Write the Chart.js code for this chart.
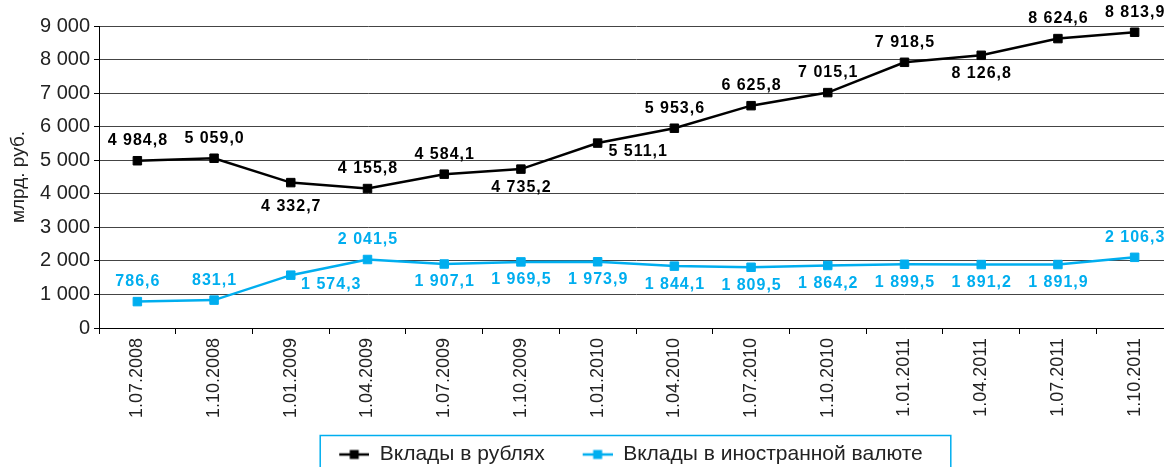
<!DOCTYPE html>
<html>
<head>
<meta charset="utf-8">
<script src="https://cdn.jsdelivr.net/npm/chart.js@4.4.1/dist/chart.umd.min.js"></script>
<style>
html,body{margin:0;padding:0;background:#fff;overflow:hidden;}
#wrap{width:1164px;height:467px;position:relative;overflow:hidden;}
canvas{display:block;}
</style>
</head>
<body>
<div id="wrap"><canvas id="c" width="1180" height="467"></canvas></div>
<script>
const categories = ['1.07.2008','1.10.2008','1.01.2009','1.04.2009','1.07.2009','1.10.2009','1.01.2010','1.04.2010','1.07.2010','1.10.2010','1.01.2011','1.04.2011','1.07.2011','1.10.2011'];
const rubDeposits = [4984.8, 5059.0, 4332.7, 4155.8, 4584.1, 4735.2, 5511.1, 5953.6, 6625.8, 7015.1, 7918.5, 8126.8, 8624.6, 8813.9];
const fxDeposits = [786.6, 831.1, 1574.3, 2041.5, 1907.1, 1969.5, 1973.9, 1844.1, 1809.5, 1864.2, 1899.5, 1891.2, 1891.9, 2106.3];
const seriesNames = ['Вклады в рублях', 'Вклады в иностранной валюте'];
const yAxisTitle = 'млрд. руб.';
const yMin = 0, yMax = 9000, yStep = 1000;
// label placement relative to marker
const rubLabelPlace = ['above','above','belowFar','above','above','below','right','above','above','above','above','below','above','above'];
const fxLabelPlace  = ['above','above','right','above','below','below','below','below','below','below','below','below','below','above'];

const BLACK = '#000000';
const BLUE = '#00aeef';
Chart.defaults.font.family = "'Liberation Sans', Arial, Helvetica, sans-serif";

function fmtNum(v, dec) {
  const s = v.toFixed(dec);
  const parts = s.split('.');
  const intPart = parts[0].replace(/\B(?=(\d{3})+(?!\d))/g, ' ');
  return parts.length > 1 ? intPart + ',' + parts[1] : intPart;
}

// legend marker: line with square, left part transparent (spacing)
function makeMarker(color) {
  const c = document.createElement('canvas');
  c.width = 48; c.height = 12;
  const g = c.getContext('2d');
  g.strokeStyle = color; g.lineWidth = 2.5;
  g.beginPath(); g.moveTo(18, 6); g.lineTo(48, 6); g.stroke();
  g.fillStyle = color; g.fillRect(28.5, 1.5, 9, 9);
  return c;
}
const markers = [makeMarker(BLACK), makeMarker(BLUE)];

const placeOffsets = {
  above: {dx: 0, dy: -20},
  below: {dx: 0, dy: 18},
  belowFar: {dx: 0, dy: 24},
  right: {dx: 40, dy: 9}
};
const labelPlaces = [rubLabelPlace, fxLabelPlace];

const dataLabelPlugin = {
  id: 'dataLabels',
  afterDatasetsDraw(chart) {
    const ctx = chart.ctx;
    ctx.save();
    ctx.font = "bold 16px 'Liberation Sans', Arial, sans-serif";
    if ('letterSpacing' in ctx) ctx.letterSpacing = '1px';
    ctx.textAlign = 'center';
    ctx.textBaseline = 'middle';
    chart.data.datasets.forEach((ds, di) => {
      const meta = chart.getDatasetMeta(di);
      ctx.fillStyle = ds.borderColor;
      meta.data.forEach((pt, i) => {
        const off = placeOffsets[labelPlaces[di][i]];
        ctx.fillText(fmtNum(ds.data[i], 1), pt.x + off.dx + 0.5, pt.y + off.dy);
      });
    });
    ctx.restore();
  }
};

const legendShiftPlugin = {
  id: 'legendShift',
  afterLayout(chart) {
    const lg = chart.legend;
    if (!lg) return;
    lg.left -= 14;
    lg.right -= 14;
  }
};

const legendBoxPlugin = {
  id: 'legendBox',
  afterDraw(chart) {
    const lg = chart.legend;
    if (!lg || !lg.legendHitBoxes || !lg.legendHitBoxes.length) return;
    const hb = lg.legendHitBoxes;
    const first = hb[0], last = hb[hb.length - 1];
    const left = first.left - 1;
    const right = last.left + last.width + 28;
    const top = first.top + first.height / 2 - 19;
    const ctx = chart.ctx;
    ctx.save();
    ctx.strokeStyle = BLUE;
    ctx.lineWidth = 1.5;
    ctx.strokeRect(left, top, right - left, 60);
    ctx.restore();
  }
};

new Chart(document.getElementById('c'), {
  type: 'line',
  data: {
    labels: categories,
    datasets: [
      {
        label: seriesNames[0], data: rubDeposits,
        borderColor: BLACK, backgroundColor: BLACK,
        borderWidth: 2.5, pointStyle: 'rect', pointRadius: 6, pointBorderWidth: 1,
        pointBackgroundColor: BLACK, pointBorderColor: BLACK, tension: 0, fill: false
      },
      {
        label: seriesNames[1], data: fxDeposits,
        borderColor: BLUE, backgroundColor: BLUE,
        borderWidth: 2.5, pointStyle: 'rect', pointRadius: 6, pointBorderWidth: 1,
        pointBackgroundColor: BLUE, pointBorderColor: BLUE, tension: 0, fill: false
      }
    ]
  },
  options: {
    responsive: false,
    animation: false,
    devicePixelRatio: 1,
    layout: { padding: { top: 26, right: 0, left: 0, bottom: 0 } },
    plugins: {
      tooltip: { enabled: false },
      legend: {
        display: true,
        position: 'bottom',
        fullSize: false,
        maxHeight: 43,
        labels: {
          usePointStyle: true,
          pointStyleWidth: 48,
          padding: 20,
          color: '#222',
          font: { size: 21 },
          generateLabels(chart) {
            const items = Chart.defaults.plugins.legend.labels.generateLabels(chart);
            items.forEach((it, i) => { it.pointStyle = markers[i]; });
            return items;
          }
        }
      }
    },
    scales: {
      x: {
        offset: true,
        grid: { offset: true, drawOnChartArea: false, drawTicks: true, tickLength: 6, color: '#000', tickColor: '#000' },
        border: { display: true, color: '#000', width: 1 },
        ticks: { autoSkip: false, minRotation: 90, maxRotation: 90, padding: 4, color: '#222', font: { size: 18 } },
        afterFit(scale) { scale.height = 96; scale.paddingRight = 0; scale.paddingLeft = 0; }
      },
      y: {
        min: yMin, max: yMax,
        ticks: {
          stepSize: yStep, padding: 4, color: '#222', font: { size: 20 },
          callback: (v) => fmtNum(v, 0)
        },
        grid: { color: '#444', lineWidth: 1, drawTicks: true, tickLength: 5, tickColor: '#000' },
        border: { display: true, color: '#000', width: 1 },
        title: { display: true, text: yAxisTitle, color: '#222', font: { size: 19 }, padding: { top: 7, bottom: 0 } },
        afterFit(scale) { scale.width = 99; }
      }
    }
  },
  plugins: [dataLabelPlugin, legendShiftPlugin, legendBoxPlugin]
});
</script>
</body>
</html>
